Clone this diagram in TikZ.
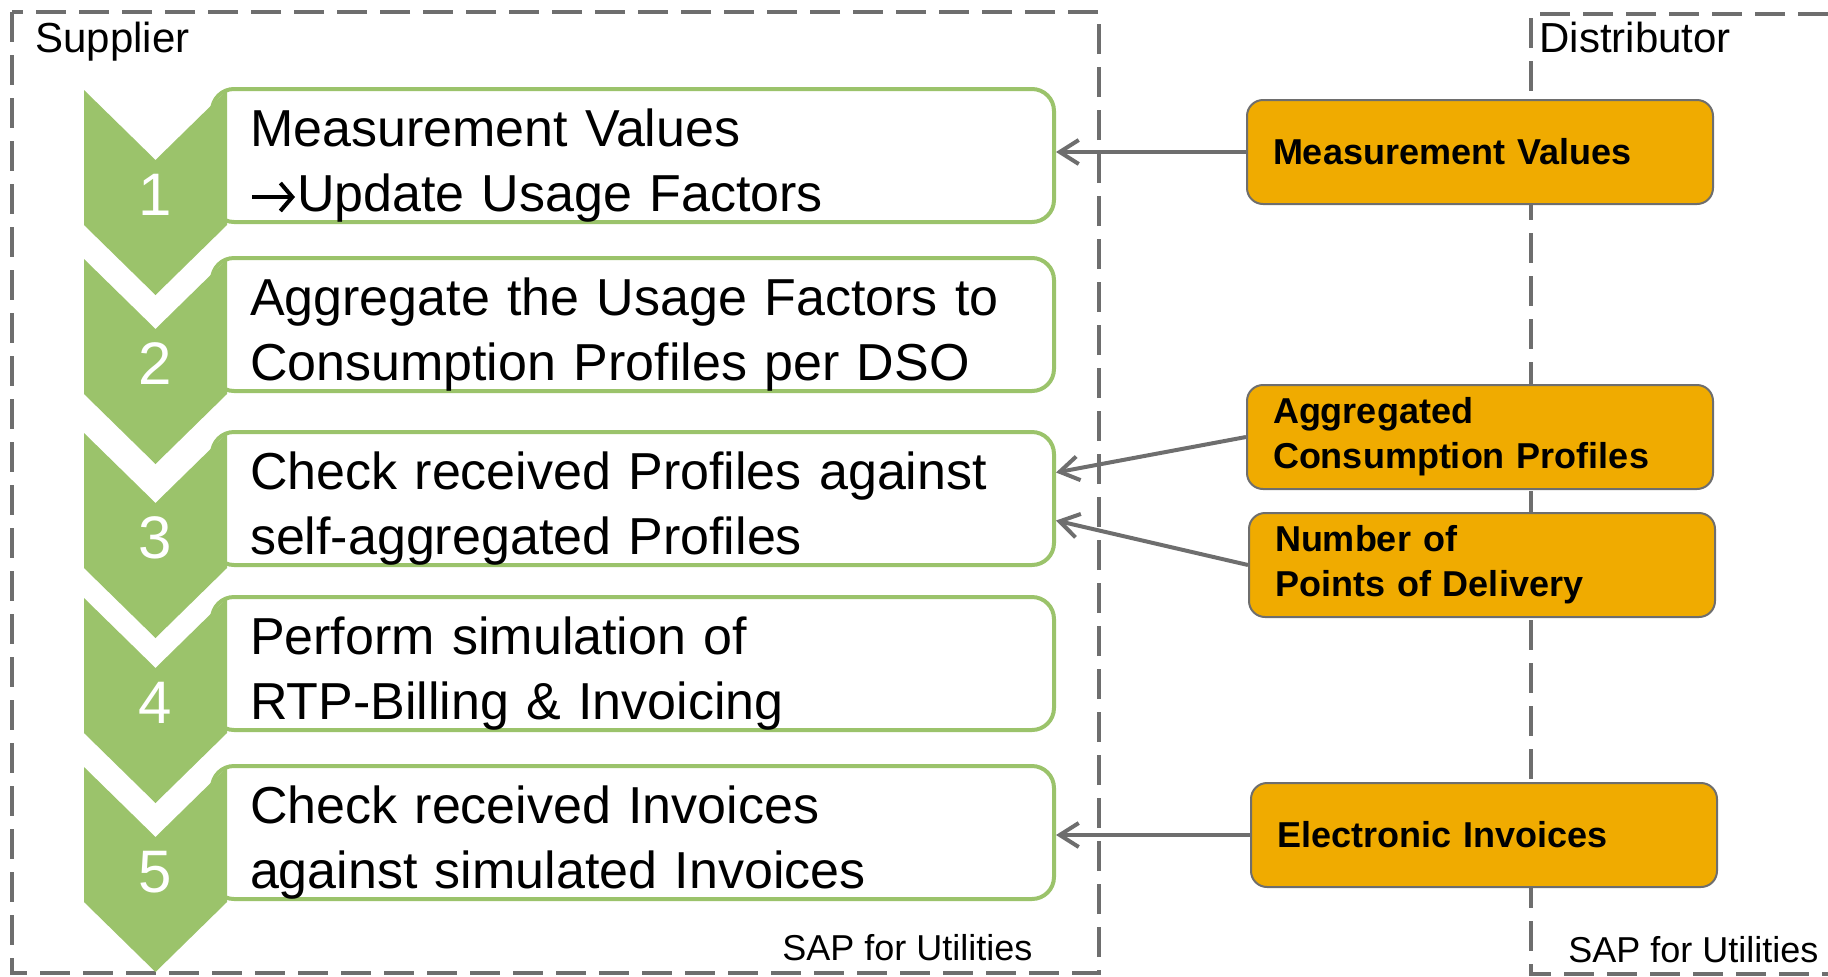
\documentclass[tikz,border=0pt]{standalone}
\usepackage{fontspec}
\setmainfont{Liberation Sans}
\usetikzlibrary{arrows.meta}
\definecolor{stepgreen}{HTML}{9BC36B}
\definecolor{msggold}{HTML}{F0AB00}
\definecolor{lanegray}{HTML}{6E6E6E}
\tikzset{
	lane/.style={draw=lanegray, line width=1.8pt, dash pattern=on 15pt off 6.5pt},
	stepbox/.style={draw=stepgreen, line width=2pt, fill=white, rounded corners=11pt, minimum width=421pt, minimum height=65.5pt, text width=383pt, text height=28.5pt, text depth=38pt, inner xsep=19pt, inner ysep=0pt, align=left, font=\fontsize{26}{32.5}\selectfont},
	stepnum/.style={text=white, inner sep=0pt, font=\fontsize{30}{36}\selectfont},
	msgbox/.style={draw=lanegray, line width=1pt, fill=msggold, rounded corners=8pt, minimum width=233pt, minimum height=52pt, text width=207pt, inner xsep=13pt, inner ysep=0pt, align=left, font=\fontsize{18}{22.5}\selectfont\bfseries},
	msgflow/.style={draw=lanegray, line width=2pt, -{Straight Barb[length=9.5pt,width=12pt]}},
	lanelabel/.style={inner sep=0pt, anchor=base west, font=\fontsize{21}{25}\selectfont},
	syslabel/.style={inner sep=0pt, anchor=base west, font=\fontsize{18}{22}\selectfont}
}
\def\chevron#1#2{\fill[stepgreen] (84,#1) -- ++(71.5,70) -- ++(71.5,-70) -- ++(0,135) -- ++(-71.5,70) -- ++(-71.5,-70) -- cycle;
	\node[stepnum] (num#2) at (155.5,{#1+105}) {#2};}
\def\thento{\tikz[baseline=0pt,x=1pt,y=1pt,sharp corners]\draw[black,line width=2pt,-{Straight Barb[length=6pt,width=14pt]}] (0.5,7) -- (22,7);}

\begin{document}
\begin{tikzpicture}[x=0.5pt,y=-0.5pt]
			%%%%% LANES %%%%%
			\useasboundingbox (0,0) rectangle (1828,976);
			
			\draw[lane] (12,12) rectangle (1099,973);
			\draw[lane] (1828,14) -- (1531,14) -- (1531,974) -- (1828,974);
			
			\node[lanelabel] (supplier) at (35,52) {Supplier};
			\node[lanelabel] (distributor) at (1539,52) {Distributor};
			\node[syslabel] (sapsup) at (782,960) {SAP for Utilities};
			\node[syslabel] (sapdist) at (1568,962) {SAP for Utilities};
			
			%%%%% STEPS %%%%%
			\node[stepbox] (box1) at (633,155.5) {Measurement Values\\\thento Update Usage Factors};
			\node[stepbox] (box2) at (633,324.5) {Aggregate the Usage Factors to\\Consumption Profiles per DSO};
			\node[stepbox] (box3) at (633,498.5) {Check received Profiles against\\self-aggregated Profiles};
			\node[stepbox] (box4) at (633,663.5) {Perform simulation of\\RTP-Billing \& Invoicing};
			\node[stepbox] (box5) at (633,832.5) {Check received Invoices\\against simulated Invoices};
			
			\chevron{90}{1}
			\chevron{259}{2}
			\chevron{433}{3}
			\chevron{598}{4}
			\chevron{767}{5}
			
			%%%%% MESSAGES %%%%%
			\node[msgbox] (mv) at (1480,152) {Measurement Values};
			\node[msgbox] (agg) at (1480,437) {Aggregated\\Consumption Profiles};
			\node[msgbox] (pod) at (1482,565) {Number of\\Points of Delivery};
			\node[msgbox] (einv) at (1484,835) {Electronic Invoices};
			
			\draw[msgflow] (mv.west) -- (box1.east |- mv.west);
			\draw[msgflow] (agg.west) -- ([yshift=13pt]box3.east);
			\draw[msgflow] (pod.west) -- ([yshift=-11pt]box3.east);
			\draw[msgflow] (einv.west) -- (box5.east |- einv.west);
			
		\end{tikzpicture}
\end{document}
